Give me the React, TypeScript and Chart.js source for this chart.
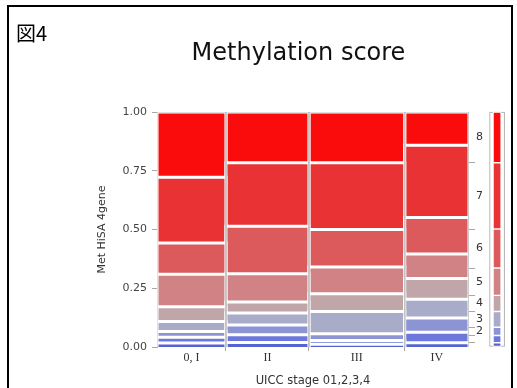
import React, { useEffect, useRef } from "react";
import { Chart, registerables } from "chart.js";

Chart.register(...registerables);

// ---- data ----
const STAGES = ["0, I", "II", "III", "IV"];
const STAGE_SHARE = [0.221, 0.266, 0.307, 0.206];
const SCORE_LEVELS = ["0", "1", "2", "3", "4", "5", "6", "7", "8"];
// percent of each methylation score (0..8) inside each stage
const SCORE_PCT_0I = [1.7, 2.5, 2.4, 4.2, 6.3, 13.9, 13.3, 27.9, 27.8];
const SCORE_PCT_II = [1.9, 3.3, 4.2, 5.1, 4.6, 12.1, 20.2, 27.0, 21.6];
const SCORE_PCT_III = [1.2, 1.6, 2.8, 9.5, 7.6, 11.3, 16.0, 28.4, 21.6];
const SCORE_PCT_IV = [1.8, 4.5, 6.0, 8.0, 8.8, 10.5, 15.5, 30.8, 14.1];
const SCORE_PCT_ALL = [1.8, 3.1, 3.5, 6.7, 6.9, 11.6, 16.6, 28.2, 21.6];
const Y_TICKS = [0, 0.25, 0.5, 0.75, 1];
const RIGHT_LABELS = ["", "", "2", "3", "4", "5", "6", "7", "8"];

// ---- style ----
const LEVEL_COLORS = [
  "#5564d2",
  "#6c78dc",
  "#8c94d4",
  "#a8acc8",
  "#c0a6a9",
  "#d08284",
  "#dc5a5c",
  "#e83234",
  "#fa0c0c",
];
const MARGIN_BAR_X = 1.09;
const SANS = '"DejaVu Sans", Verdana, sans-serif';

function spans(values: number[]): [number, number][] {
  const total = values.reduce((a, b) => a + b, 0);
  let acc = 0;
  return values.map((v, i) => {
    const start = acc;
    acc += v / total;
    return [start, i === values.length - 1 ? 1 : acc];
  });
}

export default function App() {
  const ref = useRef<HTMLCanvasElement | null>(null);

  useEffect(() => {
    if (!ref.current) return;
    const stageData = [SCORE_PCT_0I, SCORE_PCT_II, SCORE_PCT_III, SCORE_PCT_IV];
    const colSpans = spans(STAGE_SHARE);
    const centers = colSpans.map(([a, b]) => (a + b) / 2);
    const bounds = colSpans.slice(0, -1).map(([, b]) => b);
    const margSpans = spans(SCORE_PCT_ALL);
    const margCenters = margSpans.map(([a, b]) => (a + b) / 2);
    const margBounds = margSpans.slice(0, -1).map(([, b]) => b);

    const datasets: any[] = [];
    colSpans.forEach(([x0, x1], c) => {
      spans(stageData[c]).forEach(([y0, y1], l) => {
        datasets.push({
          type: "line",
          label: `${STAGES[c]} / ${SCORE_LEVELS[l]}`,
          data: [
            { x: x0, y: y0 },
            { x: x0, y: y1 },
            { x: x1, y: y1 },
            { x: x1, y: y0 },
          ],
          fill: "shape",
          backgroundColor: LEVEL_COLORS[l],
          borderColor: "#ffffff",
          borderWidth: 3,
          pointRadius: 0,
          pointHoverRadius: 0,
          tension: 0,
          order: 10 + l,
        });
      });
      datasets.push({
        type: "line",
        label: `${STAGES[c]} outline`,
        data: [
          { x: x0, y: 0 },
          { x: x0, y: 1 },
          { x: x1, y: 1 },
          { x: x1, y: 0 },
        ],
        fill: false,
        borderColor: "#c4c4c4",
        borderWidth: 1,
        pointRadius: 0,
        tension: 0,
        order: 0,
      });
    });

    datasets.push({
      type: "bar",
      label: "frame",
      data: [{ x: MARGIN_BAR_X, y: [0, 1] }],
      backgroundColor: "#ffffff",
      borderColor: "#a8a8a8",
      borderWidth: 1,
      borderSkipped: false,
      grouped: false,
      barThickness: 15,
      maxBarThickness: 15,
      categoryPercentage: 1,
      barPercentage: 1,
      clip: false,
      order: 100,
    });
    datasets.push({
      type: "bar",
      label: "all",
      data: margSpans.map(([a, b]) => ({ x: MARGIN_BAR_X, y: [a, b] })),
      backgroundColor: LEVEL_COLORS,
      borderColor: "#ffffff",
      borderWidth: 1,
      borderSkipped: false,
      grouped: false,
      barThickness: 8,
      maxBarThickness: 8,
      categoryPercentage: 1,
      barPercentage: 1,
      clip: false,
      order: 50,
    });

    const chart = new Chart(ref.current, {
      type: "line",
      data: { datasets },
      options: {
        animation: false,
        responsive: false,
        events: [],
        layout: { padding: { left: 90, right: 10, top: 0, bottom: 0 } },
        plugins: {
          legend: { display: false },
          tooltip: { enabled: false },
          title: {
            display: true,
            text: "Methylation score",
            color: "#111",
            font: { family: SANS, size: 24, weight: "normal" },
            padding: { top: 39, bottom: 44.2 },
          },
        },
        scales: {
          xb: {
            type: "linear",
            position: "bottom",
            weight: 0,
            min: 0,
            max: 1,
            offset: false,
            afterBuildTicks: (s: any) => {
              s.ticks = bounds.map((v) => ({ value: v }));
            },
            ticks: { display: false },
            grid: { offset: false, drawOnChartArea: false, drawTicks: true, tickLength: 4, color: "#a8a8a8" },
            border: { display: false },
            afterFit: (s: any) => {
              s.height = 4;
            },
          },
          x: {
            type: "linear",
            position: "bottom",
            weight: 1,
            min: 0,
            max: 1,
            offset: false,
            afterBuildTicks: (s: any) => {
              s.ticks = centers.map((v) => ({ value: v }));
            },
            ticks: {
              autoSkip: false,
              maxRotation: 0,
              padding: 0,
              color: "#333",
              font: { family: '"Liberation Serif", "DejaVu Serif", serif', size: 12 },
              callback: (_v: any, i: number) => STAGES[i],
            },
            grid: { offset: false, display: false, drawTicks: false },
            border: { display: false },
            title: {
              display: true,
              text: "UICC stage 01,2,3,4",
              color: "#333",
              font: { family: SANS, size: 11.5 },
              padding: { top: 0, bottom: 0 },
            },
            afterFit: (s: any) => {
              s.height = 37;
            },
          },
          y: {
            type: "linear",
            position: "left",
            min: 0,
            max: 1,
            afterBuildTicks: (s: any) => {
              s.ticks = Y_TICKS.map((v) => ({ value: v }));
            },
            ticks: {
              padding: 5,
              color: "#444",
              font: { family: SANS, size: 11 },
              callback: (v: any) => Number(v).toFixed(2),
            },
            grid: { drawOnChartArea: false, drawTicks: true, tickLength: 5, color: "#a8a8a8" },
            border: { display: true, color: "#a8a8a8" },
            title: {
              display: true,
              text: "Met HiSA 4gene",
              color: "#333",
              font: { family: SANS, size: 11 },
              padding: { top: 6, bottom: 0 },
            },
            afterFit: (s: any) => {
              s.width = 67;
            },
          },
          yb: {
            type: "linear",
            position: "right",
            weight: 0,
            min: 0,
            max: 1,
            afterBuildTicks: (s: any) => {
              s.ticks = margBounds.map((v) => ({ value: v }));
            },
            ticks: { display: false },
            grid: { drawOnChartArea: false, drawTicks: true, tickLength: 6, color: "#a8a8a8" },
            border: { display: false },
            afterFit: (s: any) => {
              s.width = 6;
            },
          },
          yl: {
            type: "linear",
            position: "right",
            weight: 1,
            min: 0,
            max: 1,
            afterBuildTicks: (s: any) => {
              s.ticks = margCenters.map((v) => ({ value: v }));
            },
            ticks: {
              padding: 1,
              color: "#333",
              font: { family: SANS, size: 11 },
              callback: (_v: any, i: number) => RIGHT_LABELS[i],
            },
            grid: { display: false, drawTicks: false },
            border: { display: false },
            afterFit: (s: any) => {
              s.width = 32;
            },
          },
        },
      } as any,
    });
    return () => chart.destroy();
  }, []);

  return (
    <div
      style={{
        position: "fixed",
        left: 0,
        top: 0,
        width: 517,
        height: 388,
        overflow: "hidden",
        background: "#fff",
      }}
    >
      <canvas
        ref={ref}
        width={517}
        height={388}
        style={{ position: "absolute", left: 0, top: 0, width: 517, height: 388 }}
      />
      <div
        style={{
          position: "absolute",
          left: 7,
          top: 5,
          width: 506,
          height: 420,
          border: "2px solid #000",
          boxSizing: "border-box",
          pointerEvents: "none",
        }}
      />
      <div
        style={{
          position: "absolute",
          left: 16,
          top: 23,
          fontFamily: '"Noto Sans CJK JP", sans-serif',
          fontSize: 20,
          lineHeight: 1,
          color: "#000",
        }}
      >
        図4
      </div>
    </div>
  );
}
